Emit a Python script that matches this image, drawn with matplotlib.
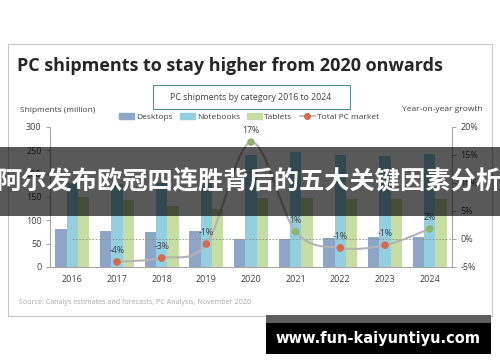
import numpy as np
import matplotlib.pyplot as plt
from matplotlib.patches import Rectangle, PathPatch, Patch
from matplotlib.path import Path
from matplotlib.lines import Line2D

# data
years = ['2016', '2017', '2018', '2019', '2020', '2021', '2022', '2023', '2024']
desktops = [82, 77, 75, 78, 59, 59, 63, 65, 65]
notebooks = [180, 178, 180, 180, 240, 247, 241, 238, 243]
tablets = [150, 143, 131, 124, 148, 148, 146, 146, 146]
growth = [-4.1, -3.4, -0.9, 17.3, 1.3, -1.6, -1.1, 1.8]   # 2017..2024
growth_labels = ['-4%', '-3%', '-1%', '17%', '1%', '-1%', '-1%', '2%']
left_ticks = [0, 50, 100, 150, 200, 250, 300]
right_ticks = [-5, 0, 5, 10, 15, 20]

W, H = 500, 362
c_desk = '#8da6c8'
c_note = '#93cfdf'
c_tab = '#c6dea3'
c_red = '#d8694d'
c_green = '#8fb36c'
c_line = '#b3b3b3'
c_text = '#404040'
c_axis = '#a6a6a6'

plt.rcParams['font.family'] = ['Open Sans', 'DejaVu Sans']


def fx(x):
    return x / W


def fy(y):
    return 1 - y / H


fig = plt.figure(figsize=(W / 100, H / 100), dpi=100)
fig.patch.set_facecolor('white')

# card border
fig.add_artist(Rectangle((fx(8), fy(316)), fx(484), (316 - 44) / H, transform=fig.transFigure,
                         fill=False, edgecolor='#c8c8c8', lw=0.8))

fig.text(fx(17), fy(66), 'PC shipments to stay higher from 2020 onwards', fontsize=13,
         fontweight='bold', color='#262626', va='center', ha='left')

# subtitle box
fig.add_artist(Rectangle((fx(153), fy(109)), fx(197), 24 / H, transform=fig.transFigure,
                         fill=False, edgecolor='#5b8a8f', lw=0.8))
fig.text(fx(251), fy(97), 'PC shipments by category 2016 to 2024', fontsize=6.3,
         color=c_text, ha='center', va='center')

fig.text(fx(20), fy(110), 'Shipments (million)', fontsize=6, color=c_text, ha='left', va='center')
fig.text(fx(483), fy(109), 'Year-on-year growth', fontsize=6, color=c_text, ha='right', va='center')

ax = fig.add_axes([fx(50), fy(267), 402 / W, 140 / H])
x = np.arange(len(years))
bw = 0.255
ax.bar(x - bw, desktops, bw, color=c_desk, zorder=2)
ax.bar(x, notebooks, bw, color=c_note, zorder=2)
ax.bar(x + bw, tablets, bw, color=c_tab, zorder=2)
ax.set_xlim(-0.5, len(years) - 0.5)
ax.set_ylim(0, 300)
ax.set_yticks(left_ticks)
ax.set_xticks(x)
ax.set_xticklabels(years)
ax.tick_params(axis='y', length=3, color=c_axis, labelsize=6.5, labelcolor=c_text, pad=3)
ax.tick_params(axis='x', length=0, labelsize=6.5, labelcolor=c_text, pad=6)
for s in ['top', 'right']:
    ax.spines[s].set_visible(False)
for s in ['left', 'bottom']:
    ax.spines[s].set_color(c_axis)
    ax.spines[s].set_linewidth(0.8)

ax2 = ax.twinx()
ax2.set_ylim(-5, 20)
ax2.set_yticks(right_ticks)
ax2.set_yticklabels([f'{t}%' for t in right_ticks])
ax2.tick_params(axis='y', length=3, color=c_axis, labelsize=6.5, labelcolor=c_text, pad=3)
for s in ['top', 'left', 'bottom']:
    ax2.spines[s].set_visible(False)
ax2.spines['right'].set_color(c_axis)
ax2.spines['right'].set_linewidth(0.8)

ax2.hlines(0, 0, len(years) - 0.5, colors='#8c8c8c', linestyles=(0, (2, 2)), lw=0.6, zorder=3)

# smoothed line through growth points (Catmull-Rom as cubic Bezier)
gx = x[1:].astype(float)
gy = np.array(growth, dtype=float)
pts = np.column_stack([gx, gy])
ext = np.vstack([pts[0], pts, pts[-1]])
verts = [tuple(pts[0])]
codes = [Path.MOVETO]
for i in range(len(pts) - 1):
    p0, p1, p2, p3 = ext[i], ext[i + 1], ext[i + 2], ext[i + 3]
    c1 = p1 + (p2 - p0) / 6
    c2 = p2 - (p3 - p1) / 6
    verts += [tuple(c1), tuple(c2), tuple(p2)]
    codes += [Path.CURVE4] * 3
ax2.add_patch(PathPatch(Path(verts, codes), fill=False, edgecolor=c_line, lw=1.5, zorder=4))
mcolors = [c_red if v < 0 else c_green for v in growth]
ax2.scatter(gx, gy, s=30, c=mcolors, zorder=5, edgecolors='none')
for xi, yi, lab in zip(gx, gy, growth_labels):
    ax2.annotate(lab, (xi, yi), xytext=(0, 5), textcoords='offset points', ha='center',
                 va='bottom', fontsize=6.3, color=c_text, zorder=6)

handles = [Patch(color=c_desk), Patch(color=c_note), Patch(color=c_tab),
           Line2D([], [], color=c_line, lw=1.2, marker='o', markersize=4,
                  markerfacecolor=c_red, markeredgecolor=c_red)]
fig.legend(handles, ['Desktops', 'Notebooks', 'Tablets', 'Total PC market'], ncol=4,
           loc='center', bbox_to_anchor=(fx(249), fy(117)), frameon=False, fontsize=6,
           handlelength=1.8, handleheight=0.6, handletextpad=0.2, columnspacing=0.9,
           labelcolor=c_text)

fig.text(fx(19), fy(302), 'Source: Canalys estimates and forecasts, PC Analysis, November 2020',
         fontsize=5.1, color='#a6a6a6', ha='left', va='center')

# overlay banner
fig.add_artist(Rectangle((0, fy(216)), 1, (216 - 147) / H, transform=fig.transFigure,
                         facecolor='black', alpha=0.65, edgecolor='none', zorder=20))
fig.text(fx(249), fy(182), '阿尔发布欧冠四连胜背后的五大关键因素分析', fontsize=18.2,
         fontweight='bold', color='white', ha='center', va='center', zorder=21,
         family=['Noto Sans CJK SC', 'DejaVu Sans'])

# watermark box
fig.add_artist(Rectangle((fx(266), fy(323)), fx(225), 8 / H, transform=fig.transFigure,
                         facecolor='#5e5e5e', edgecolor='none', zorder=20))
fig.add_artist(Rectangle((fx(266), fy(354)), fx(225), 31 / H, transform=fig.transFigure,
                         facecolor='black', edgecolor='none', zorder=20))
fig.text(fx(378), fy(338), 'www.fun-kaiyuntiyu.com', fontsize=10.5, fontweight='bold',
         color='white', ha='center', va='center', zorder=21, family=['DejaVu Sans'])

fig.savefig('out.png', dpi=100)
